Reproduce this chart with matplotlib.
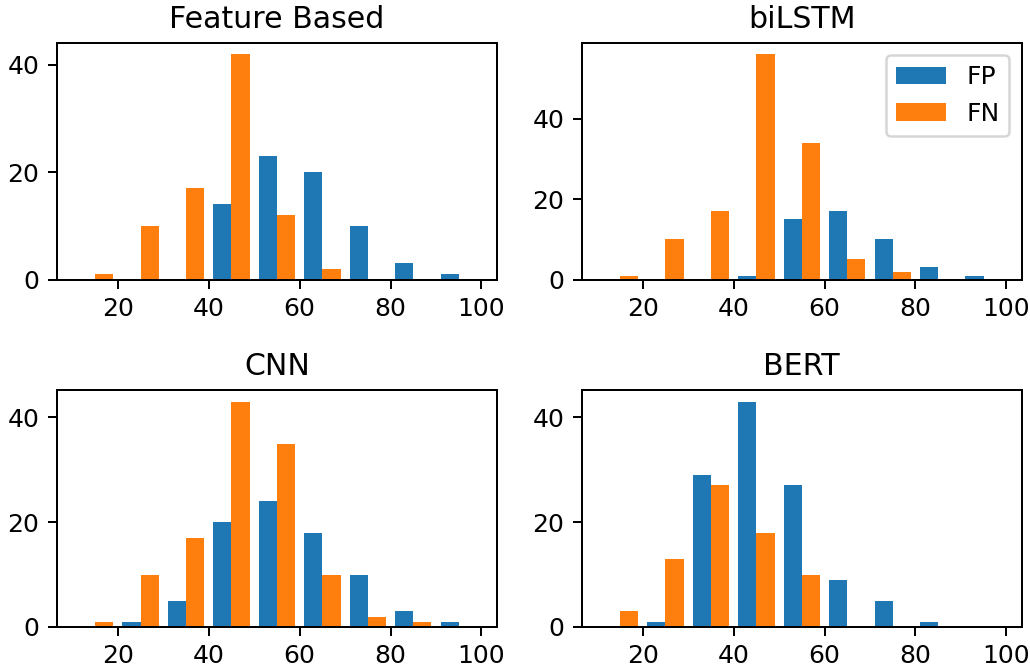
import numpy as np
import matplotlib
matplotlib.use('Agg')
import matplotlib.pyplot as plt

## bins of width 10 from 10 to 100
bins = np.arange(10, 101, 10)
centers = bins[:-1] + 5

titles = ['Feature Based', 'biLSTM', 'CNN', 'BERT']

## counts per bin
fp_feature = [0, 0, 0, 14, 23, 20, 10, 3, 1]
fn_feature = [1, 10, 17, 42, 12, 2, 0, 0, 0]

fp_bilstm = [0, 0, 0, 1, 15, 17, 10, 3, 1]
fn_bilstm = [1, 10, 17, 56, 34, 5, 2, 0, 0]

fp_cnn = [0, 1, 5, 20, 24, 18, 10, 3, 1]
fn_cnn = [1, 10, 17, 43, 35, 10, 2, 1, 0]

fp_bert = [0, 1, 29, 43, 27, 9, 5, 1, 0]
fn_bert = [3, 13, 27, 18, 10, 0, 0, 0, 0]

fp_all = [fp_feature, fp_bilstm, fp_cnn, fp_bert]
fn_all = [fn_feature, fn_bilstm, fn_cnn, fn_bert]

dpi = 180
fig, axes = plt.subplots(2, 2, figsize=(1030 / dpi, 670 / dpi), dpi=dpi)
fig.subplots_adjust(left=0.0553, right=0.992, top=0.936, bottom=0.0642,
                    wspace=0.193, hspace=0.468)

for i, ax in enumerate(axes.flat):
    ax.hist([centers, centers], bins=bins,
            weights=[fp_all[i], fn_all[i]], label=['FP', 'FN'])
    ax.set_title(titles[i])
    if i == 1:
        ax.legend(loc='upper right')

fig.savefig('out.png', dpi=dpi)
